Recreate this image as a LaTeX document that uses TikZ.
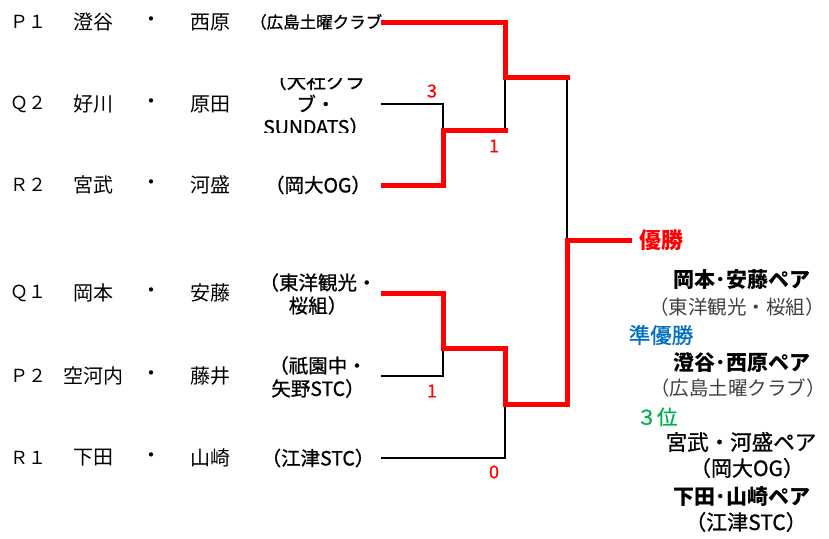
\documentclass[tikz,border=0pt]{standalone}
\usepackage{fontspec}
\newfontfamily\jp{Noto Sans CJK JP}
\newfontfamily\jpmed[FakeBold=0.9]{Noto Sans CJK JP}
\newfontfamily\jpscore[FakeBold=0.5]{Noto Sans CJK JP}
\definecolor{winred}{HTML}{FF0000}
\definecolor{runblue}{HTML}{0070C0}
\definecolor{thirdgreen}{HTML}{00B050}
\definecolor{subgray}{HTML}{404040}
\begin{document}
\begin{tikzpicture}[x=1pt,y=-1pt,
  win/.style={line width=5pt, draw=winred, line join=miter, line cap=rect},
  lose/.style={line width=1.8pt, draw=black},
  seedlbl/.style={font=\jp\fontsize{18}{18}\selectfont, inner sep=0pt},
  pname/.style={font=\jp\fontsize{20}{20}\selectfont, inner sep=0pt},
  team/.style={font=\jpmed\fontsize{19.5}{23}\selectfont, inner sep=0pt, align=center},
  score/.style={font=\jpscore\fontsize{18}{18}\selectfont, text=winred, inner sep=0pt},
  rtitle/.style={inner sep=0pt},
  rpair/.style={font=\jp\bfseries\fontsize{21}{21}\selectfont, inner sep=0pt},
  rteam/.style={font=\jp\fontsize{19.5}{19.5}\selectfont, text=subgray, inner sep=0pt}
]
\useasboundingbox (0,0) rectangle (829,538);

% ---- left: entries ----
\foreach \nm/\y/\s/\a/\b in {p1/22/Ｐ１/澄谷/西原, q2/104/Ｑ２/好川/原田, r2/185/Ｒ２/宮武/河盛,
                               q1/293/Ｑ１/岡本/安藤, p2/376/Ｐ２/空河内/藤井, r1/458/Ｒ１/下田/山崎}{
  \node[seedlbl] (s\nm) at (28,\y) {\s};
  \node[pname] (a\nm) at (93,\y) {\a};
  \node[pname] (d\nm) at (151,\y) {・};
  \node[pname] (b\nm) at (210,\y) {\b};
}
\begin{scope}
  \clip (240,0) rectangle (383,45);
  \node[font=\jpmed\fontsize{16.5}{16.5}\selectfont, inner sep=0pt, anchor=west] (tp1) at (250,22) {（広島土曜クラブ）};
\end{scope}
\begin{scope}
  \clip (240,78) rectangle (378,132);
  \node[team] (tq2) at (316,104) {（大社クラ\\ブ・\\SUNDATS）};
\end{scope}
\node[team] (tr2) at (318,185) {（岡大OG）};
\node[team] (tq1) at (318,294) {（東洋観光・\\桜組）};
\node[team] (tp2) at (318,377) {（祇園中・\\矢野STC）};
\node[team] (tr1) at (318,458) {（江津STC）};

% ---- bracket coordinates ----
\coordinate (ep1) at (383,22);
\coordinate (eq2) at (381,104);
\coordinate (er2) at (383,185);
\coordinate (eq1) at (383,293);
\coordinate (ep2) at (381,376);
\coordinate (er1) at (381,458);
\coordinate (m1) at (443,130);
\coordinate (m2) at (443,348);
\coordinate (s1) at (505,77);
\coordinate (s1b) at (505,130);
\coordinate (s2) at (505,404);
\coordinate (s2b) at (505,458);
\coordinate (f) at (567,240);
\coordinate (ft) at (567,77);
\coordinate (fb) at (567,404);
\coordinate (champ) at (629,240);

% losers (black)
\draw[lose] (eq2) -| (m1);
\draw[lose] (ep2) -| (m2);
\draw[lose] (er1) -| (s2);
\draw[lose] (s1b) -- (s1);
\draw[lose] (ft) -- (f);

% winners (red)
\draw[win] (ep1) -| (s1) -- (ft);
\draw[win] (er2) -| (m1) -- (s1b);
\draw[win] (eq1) -| (m2) -| (s2) -- (fb) -- (f) -- (champ);

% scores
\node[score] (sc1) at (432,91) {3};
\node[score] (sc2) at (494,146) {1};
\node[score] (sc3) at (432,391) {1};
\node[score] (sc4) at (494,472) {0};

% ---- right: results ----
\node[rtitle, text=winred, font=\jp\bfseries\fontsize{22}{22}\selectfont] (yusho) at (661,240) {優勝};
\node[rpair] (w1) at (742,280) {岡本･安藤ペア};
\node[rteam] (w1t) at (737,307) {（東洋観光・桜組）};
\node[rtitle, text=runblue, font=\jpmed\fontsize{21.5}{21.5}\selectfont] (jun) at (661,335) {準優勝};
\node[rpair] (w2) at (742,363) {澄谷･西原ペア};
\node[rteam] (w2t) at (738,388) {（広島土曜クラブ）};
\node[rtitle, text=thirdgreen, font=\jpmed\fontsize{20.5}{20.5}\selectfont] (third) at (657,417) {３位};
\node[rpair, font=\jpmed\fontsize{21.5}{21.5}\selectfont] (w3) at (741,442) {宮武・河盛ペア};
\node[rteam, text=black, font=\jpmed\fontsize{21}{21}\selectfont] (w3t) at (747,468) {（岡大OG）};
\node[rpair] (w4) at (742,497) {下田･山崎ペア};
\node[rteam, text=black, font=\jpmed\fontsize{21}{21}\selectfont] (w4t) at (746,522) {（江津STC）};
\end{tikzpicture}
\end{document}
